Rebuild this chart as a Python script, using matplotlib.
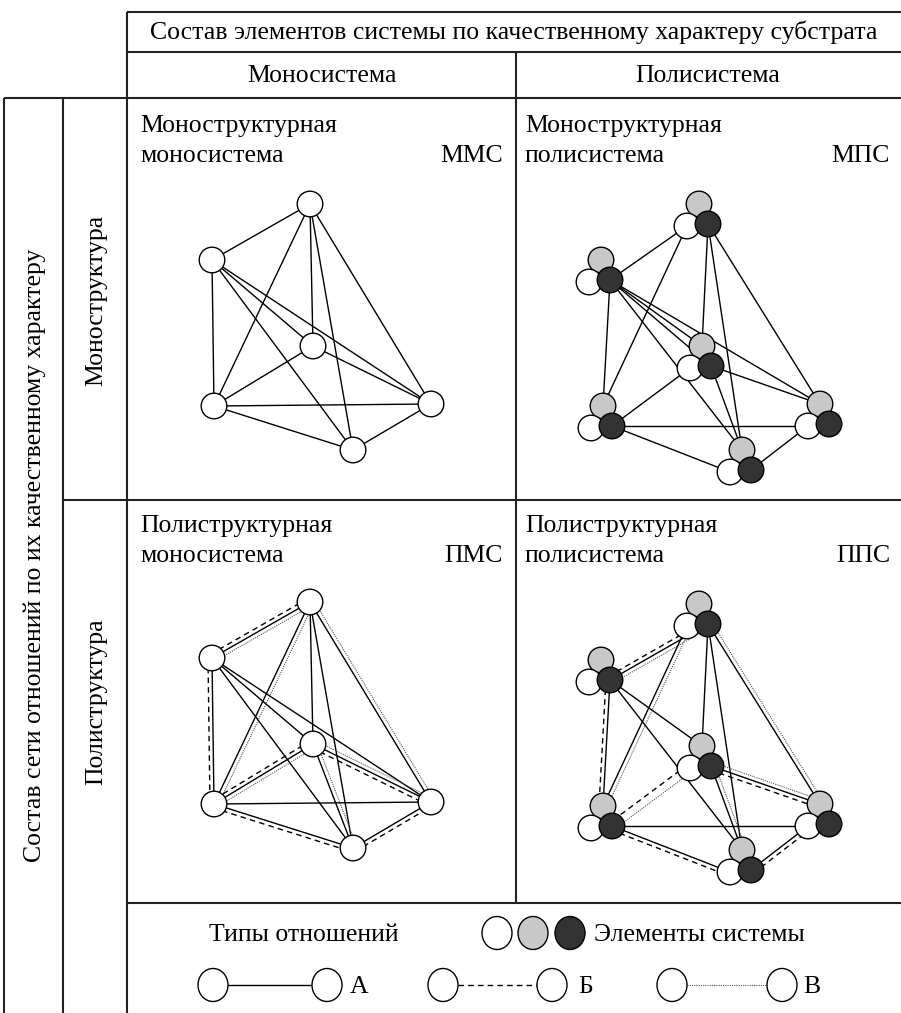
import matplotlib
matplotlib.use("Agg")
import matplotlib.pyplot as plt
from matplotlib.patches import Circle, Ellipse
import numpy as np

plt.rcParams['font.family'] = ['Liberation Serif', 'DejaVu Serif']

# --- data ---
header_top = "Состав элементов системы по качественному характеру субстрата"
header_cols = ["Моносистема", "Полисистема"]
row_outer = "Состав сети отношений по их качественному характеру"
row_labels = ["Моноструктура", "Полиструктура"]
panel_line1 = [["Моноструктурная", "Моноструктурная"],
               ["Полиструктурная", "Полиструктурная"]]
panel_line2 = [["моносистема", "полисистема"], ["моносистема", "полисистема"]]
panel_codes = [["ММС", "МПС"], ["ПМС", "ППС"]]

# node layout of the graph (same six nodes in every panel)
node_names = ['T', 'L', 'C', 'BL', 'R', 'B']
node_x = [310, 212, 313, 214, 431, 353]
node_y = [204, 260, 346, 406, 404, 450]

# monostructure: node pairs
mono_edges = [('T', 'L'), ('T', 'BL'), ('T', 'C'), ('T', 'B'), ('T', 'R'),
              ('L', 'BL'), ('L', 'C'), ('L', 'R'), ('L', 'B'),
              ('C', 'BL'), ('C', 'R'), ('BL', 'R'), ('BL', 'B'), ('B', 'R')]
# polystructure: node pairs with relation types
poly_edges = [('T', 'L', 'АБВ'), ('T', 'BL', 'АВ'), ('T', 'C', 'А'), ('T', 'B', 'А'),
              ('T', 'R', 'АВ'), ('L', 'BL', 'АБ'), ('L', 'C', 'А'), ('L', 'R', 'А'),
              ('L', 'B', 'А'), ('C', 'BL', 'АБВ'), ('C', 'R', 'АБВ'), ('C', 'B', 'АВ'),
              ('BL', 'R', 'А'), ('BL', 'B', 'АБ'), ('B', 'R', 'АБ')]
# polysystem: which element of each cluster an edge attaches to (w/g/d)
mps_edges = [('T', 'w', 'L', 'd'), ('T', 'w', 'BL', 'g'), ('T', 'd', 'C', 'g'),
             ('T', 'd', 'B', 'g'), ('T', 'd', 'R', 'g'), ('L', 'd', 'BL', 'g'),
             ('L', 'd', 'C', 'g'), ('L', 'd', 'C', 'd'), ('L', 'd', 'R', 'g'),
             ('L', 'd', 'B', 'g'), ('C', 'w', 'BL', 'd'), ('C', 'd', 'R', 'g'),
             ('C', 'd', 'B', 'g'), ('BL', 'd', 'R', 'w'), ('BL', 'd', 'B', 'w'),
             ('B', 'd', 'R', 'w')]
pps_edges = [('T', 'd', 'L', 'd', 'АБВ'), ('T', 'w', 'BL', 'g', 'АВ'), ('T', 'd', 'C', 'g', 'А'),
             ('T', 'd', 'B', 'g', 'А'), ('T', 'd', 'R', 'g', 'АВ'), ('L', 'd', 'BL', 'g', 'АБ'),
             ('L', 'd', 'C', 'g', 'А'), ('L', 'd', 'B', 'g', 'А'), ('C', 'w', 'BL', 'd', 'БВ'),
             ('C', 'd', 'R', 'g', 'АБВ'), ('C', 'd', 'B', 'g', 'АВ'), ('BL', 'd', 'R', 'w', 'А'),
             ('BL', 'd', 'B', 'w', 'АБ'), ('B', 'd', 'R', 'w', 'АБ')]

element_colors = {'g': '#c8c8c8', 'w': '#ffffff', 'd': '#333333'}
legend_types = ['А', 'Б', 'В']

# --- styles ---
R_NODE = 12.8
elem_off = {'g': (0, 0), 'w': (-12, 22), 'd': (9, 20)}
shift = {(0, 0): (0, 0), (0, 1): (389, 0), (1, 0): (0, 398), (1, 1): (389, 400)}
type_style = {'А': dict(ls='-', lw=1.0, color='black'),
              'Б': dict(ls=(0, (4, 3)), lw=1.0, color='black'),
              'В': dict(ls=(0, (1, 1)), lw=0.8, color='#555555')}
type_off = {'А': 0, 'Б': 4, 'В': -4}
FS = 18.5

pos = {n: (x, y) for n, x, y in zip(node_names, node_x, node_y)}

fig = plt.figure(figsize=(9.01, 10.13), dpi=100)
ax = fig.add_axes([0, 0, 1, 1])
ax.set_xlim(0, 901)
ax.set_ylim(1013, 0)
ax.axis('off')

gc = '#222222'
glw = 1.5
for y, x0, x1 in [(12, 127, 901), (52, 127, 901), (98, 4, 901), (500, 63, 901), (903, 127, 901)]:
    ax.plot([x0, x1], [y, y], color=gc, lw=glw, solid_capstyle='butt')
for x, y0, y1 in [(4, 98, 1013), (63, 98, 1013), (127, 12, 1013), (516, 52, 903)]:
    ax.plot([x, x], [y0, y1], color=gc, lw=glw, solid_capstyle='butt')

ax.text(514, 32, header_top, ha='center', va='center', fontsize=FS)
ax.text(322, 76, header_cols[0], ha='center', va='center', fontsize=FS)
ax.text(708, 76, header_cols[1], ha='center', va='center', fontsize=FS)
ax.text(35, 555, row_outer, ha='center', va='center', rotation=90, fontsize=FS)
ax.text(96, 300, row_labels[0], ha='center', va='center', rotation=90, fontsize=FS)
ax.text(96, 702, row_labels[1], ha='center', va='center', rotation=90, fontsize=FS)

for r in range(2):
    for c in range(2):
        x0 = 140 if c == 0 else 525
        x1 = 503 if c == 0 else 890
        y0 = 126 + 400 * r
        ax.text(x0, y0, panel_line1[r][c], ha='left', va='center', fontsize=FS)
        ax.text(x0, y0 + 30, panel_line2[r][c], ha='left', va='center', fontsize=FS)
        ax.text(x1, y0 + 30, panel_codes[r][c], ha='right', va='center', fontsize=FS)


def epos(n, e, s):
    x, y = pos[n]
    return x + s[0] + elem_off[e][0], y + s[1] + elem_off[e][1]


def draw_multi(p, q, types):
    p = np.array(p, float)
    q = np.array(q, float)
    d = q - p
    nrm = np.array([-d[1], d[0]]) / np.hypot(*d)
    for t in types:
        o = nrm * type_off[t]
        ax.plot([p[0] + o[0], q[0] + o[0]], [p[1] + o[1], q[1] + o[1]], zorder=1,
                dash_capstyle='butt', **type_style[t])


# monostructure monosystem
s = shift[(0, 0)]
for a, b in mono_edges:
    draw_multi(epos(a, 'g', s), epos(b, 'g', s), 'А')
# polystructure monosystem
s = shift[(1, 0)]
for a, b, t in poly_edges:
    draw_multi(epos(a, 'g', s), epos(b, 'g', s), t)
for s in [shift[(0, 0)], shift[(1, 0)]]:
    for n in node_names:
        ax.add_patch(Circle(epos(n, 'g', s), R_NODE, fc='white', ec='black', lw=1.0, zorder=3))

# monostructure polysystem
s = shift[(0, 1)]
for a, ea, b, eb in mps_edges:
    draw_multi(epos(a, ea, s), epos(b, eb, s), 'А')
s = shift[(1, 1)]
for a, ea, b, eb, t in pps_edges:
    draw_multi(epos(a, ea, s), epos(b, eb, s), t)
for s in [shift[(0, 1)], shift[(1, 1)]]:
    for n in node_names:
        for z, e in enumerate(['g', 'w', 'd']):
            ax.add_patch(Circle(epos(n, e, s), R_NODE, fc=element_colors[e], ec='black',
                                lw=1.0, zorder=3 + z))

# legend
ax.text(304, 935, "Типы отношений", ha='center', va='center', fontsize=FS)
for x, e in zip([497, 533, 570], ['w', 'g', 'd']):
    ax.add_patch(Ellipse((x, 933), 30, 33, fc=element_colors[e], ec='black', lw=1.0, zorder=3))
ax.text(594, 935, "Элементы системы", ha='left', va='center', fontsize=FS)
for t, xl, xr, xt in zip(legend_types, [213, 443, 672], [327, 552, 782], [350, 578, 803]):
    ax.plot([xl + 15, xr - 15], [985, 985], zorder=1, **type_style[t])
    for x in (xl, xr):
        ax.add_patch(Ellipse((x, 985), 30, 33, fc='white', ec='black', lw=1.0, zorder=3))
    ax.text(xt, 987, t, ha='left', va='center', fontsize=FS)

fig.savefig('out.png', dpi=100)
